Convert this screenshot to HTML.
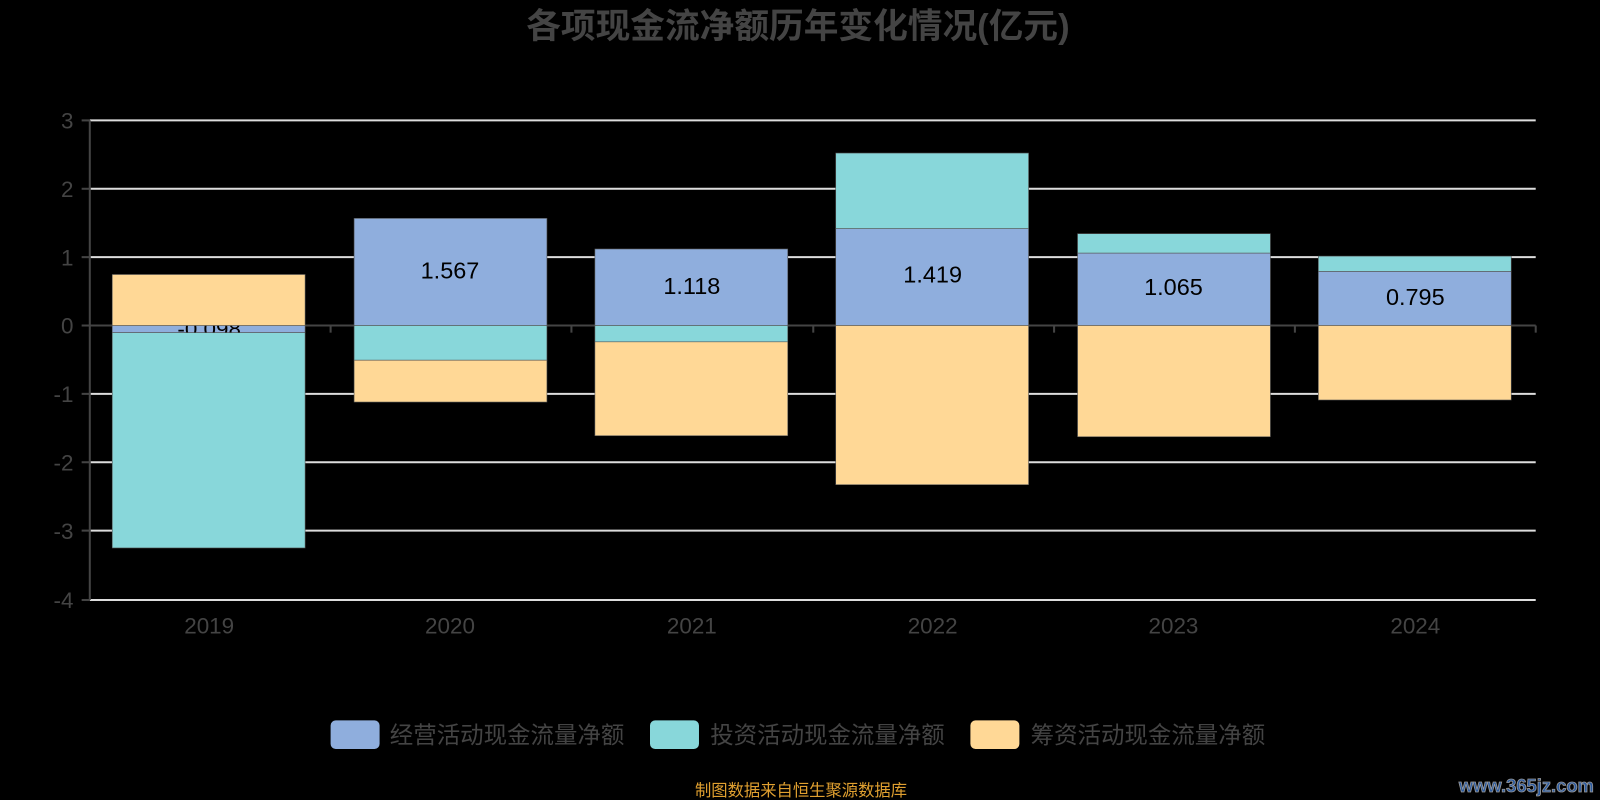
<!DOCTYPE html><html><head><meta charset="utf-8"><style>body{margin:0;background:#000}svg{display:block}text{font-family:"Liberation Sans","Noto Sans CJK SC",sans-serif}</style></head><body>
<svg width="1600" height="800" viewBox="0 0 1568 784" xmlns="http://www.w3.org/2000/svg">
<rect width="1568" height="784" fill="#000"/>
<text x="782" y="37" text-anchor="middle" font-size="34" font-weight="bold" fill="#444">各项现金流净额历年变化情况(亿元)</text>
<g stroke="#ddd" stroke-width="2">
<line x1="88" y1="118" x2="1505" y2="118"/><line x1="88" y1="185" x2="1505" y2="185"/><line x1="88" y1="252" x2="1505" y2="252"/>
<line x1="88" y1="386" x2="1505" y2="386"/><line x1="88" y1="453" x2="1505" y2="453"/><line x1="88" y1="520" x2="1505" y2="520"/><line x1="88" y1="588" x2="1505" y2="588"/>
</g>
<g fill="#444" font-size="22" text-anchor="end">
<text x="72" y="126">3</text><text x="72" y="193">2</text><text x="72" y="260">1</text><text x="72" y="327">0</text><text x="72" y="394">-1</text><text x="72" y="461">-2</text><text x="72" y="528">-3</text><text x="72" y="596">-4</text>
</g>
<g stroke="#444" stroke-width="2"><line x1="88" y1="118" x2="88" y2="588"/><line x1="80" y1="118" x2="88" y2="118"/><line x1="80" y1="185" x2="88" y2="185"/><line x1="80" y1="252" x2="88" y2="252"/><line x1="80" y1="319" x2="88" y2="319"/><line x1="80" y1="386" x2="88" y2="386"/><line x1="80" y1="453" x2="88" y2="453"/><line x1="80" y1="520" x2="88" y2="520"/><line x1="80" y1="588" x2="88" y2="588"/>
<line x1="88" y1="319" x2="1505" y2="319"/>
<line x1="324" y1="319" x2="324" y2="326"/><line x1="560" y1="319" x2="560" y2="326"/><line x1="797" y1="319" x2="797" y2="326"/><line x1="1033" y1="319" x2="1033" y2="326"/><line x1="1269" y1="319" x2="1269" y2="326"/><line x1="1505" y1="319" x2="1505" y2="326"/></g>
<g stroke="#555" stroke-width="0.6">
<rect x="110" y="319" width="189" height="7" fill="#8FAEDD"/>
<text x="205" y="330" text-anchor="middle" font-size="22" fill="#000" stroke="none">-0.098</text>
<rect x="347" y="214" width="189" height="105" fill="#8FAEDD"/>
<rect x="583" y="244" width="189" height="75" fill="#8FAEDD"/>
<rect x="819" y="224" width="189" height="95" fill="#8FAEDD"/>
<rect x="1056" y="248" width="189" height="71" fill="#8FAEDD"/>
<rect x="1292" y="266" width="189" height="53" fill="#8FAEDD"/>
<rect x="110" y="326" width="189" height="211" fill="#88D7DA"/>
<rect x="347" y="319" width="189" height="34" fill="#88D7DA"/>
<rect x="583" y="319" width="189" height="16" fill="#88D7DA"/>
<rect x="819" y="150" width="189" height="74" fill="#88D7DA"/>
<rect x="1056" y="229" width="189" height="19" fill="#88D7DA"/>
<rect x="1292" y="251" width="189" height="15" fill="#88D7DA"/>
<rect x="110" y="269" width="189" height="50" fill="#FFD896"/>
<rect x="347" y="353" width="189" height="41" fill="#FFD896"/>
<rect x="583" y="335" width="189" height="92" fill="#FFD896"/>
<rect x="819" y="319" width="189" height="156" fill="#FFD896"/>
<rect x="1056" y="319" width="189" height="109" fill="#FFD896"/>
<rect x="1292" y="319" width="189" height="73" fill="#FFD896"/>
</g>
<g font-size="23" fill="#000" text-anchor="middle">
<text x="441" y="273">1.567</text><text x="678" y="288">1.118</text><text x="914" y="277">1.419</text><text x="1150" y="289">1.065</text><text x="1387" y="299">0.795</text>
</g>
<g font-size="22" fill="#444" text-anchor="middle">
<text x="205" y="621">2019</text><text x="441" y="621">2020</text><text x="678" y="621">2021</text><text x="914" y="621">2022</text><text x="1150" y="621">2023</text><text x="1387" y="621">2024</text>
</g>
<rect x="324" y="706" width="48" height="28" rx="5" fill="#8FAEDD"/>
<text x="382" y="728" font-size="23" fill="#444">经营活动现金流量净额</text>
<rect x="637" y="706" width="48" height="28" rx="5" fill="#88D7DA"/>
<text x="696" y="728" font-size="23" fill="#444">投资活动现金流量净额</text>
<rect x="951" y="706" width="48" height="28" rx="5" fill="#FFD896"/>
<text x="1010" y="728" font-size="23" fill="#444">筹资活动现金流量净额</text>
<text x="785" y="780" text-anchor="middle" font-size="16" fill="#E0A030">制图数据来自恒生聚源数据库</text>
<text x="1562" y="776" text-anchor="end" font-size="18" font-weight="bold" fill="#2a5aa0" stroke="#999" stroke-width="0.8">www.365jz.com</text>
</svg>
</body></html>
